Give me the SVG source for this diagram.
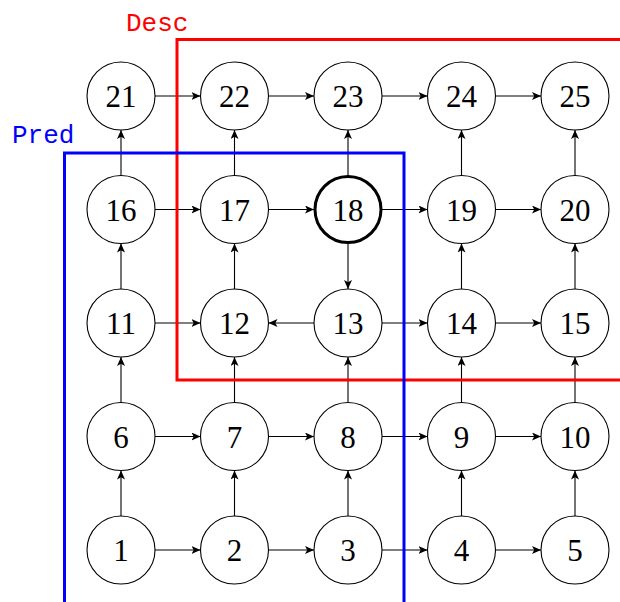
<svg xmlns="http://www.w3.org/2000/svg" width="620" height="602" viewBox="0 0 620 602">
<style>
.n circle{fill:#fff;stroke:#000;stroke-width:1.1}
.n text{font-family:"Liberation Serif","DejaVu Serif",serif;font-size:31px;text-anchor:middle;fill:#000}
.e line{stroke:#000;stroke-width:1.1;marker-end:url(#ah)}
.lbl{font-family:"Liberation Mono","DejaVu Sans Mono",monospace;font-size:26px}
</style>
<defs>
<marker id="ah" markerUnits="userSpaceOnUse" markerWidth="12" markerHeight="10" refX="9" refY="4" orient="auto">
<path d="M0,0 L9,4 L0,8 L2.2,4 Z" fill="#000"/>
</marker>
</defs>
<rect x="0" y="0" width="620" height="602" fill="#fff"/>
<g id="connectors" class="e">
<!-- horizontal -->
<line x1="155" y1="550" x2="200.5" y2="550"/>
<line x1="268.5" y1="550" x2="314" y2="550"/>
<line x1="382" y1="550" x2="427.5" y2="550"/>
<line x1="495.5" y1="550" x2="541" y2="550"/>
<line x1="155" y1="436.5" x2="200.5" y2="436.5"/>
<line x1="268.5" y1="436.5" x2="314" y2="436.5"/>
<line x1="382" y1="436.5" x2="427.5" y2="436.5"/>
<line x1="495.5" y1="436.5" x2="541" y2="436.5"/>
<line x1="155" y1="323" x2="200.5" y2="323"/>
<line x1="314" y1="323" x2="268.5" y2="323"/>
<line x1="382" y1="323" x2="427.5" y2="323"/>
<line x1="495.5" y1="323" x2="541" y2="323"/>
<line x1="155" y1="209.5" x2="200.5" y2="209.5"/>
<line x1="268.5" y1="209.5" x2="314" y2="209.5"/>
<line x1="382" y1="209.5" x2="427.5" y2="209.5"/>
<line x1="495.5" y1="209.5" x2="541" y2="209.5"/>
<line x1="155" y1="96" x2="200.5" y2="96"/>
<line x1="268.5" y1="96" x2="314" y2="96"/>
<line x1="382" y1="96" x2="427.5" y2="96"/>
<line x1="495.5" y1="96" x2="541" y2="96"/>
<!-- vertical -->
<line x1="121" y1="516" x2="121" y2="470.5"/>
<line x1="121" y1="402.5" x2="121" y2="357"/>
<line x1="121" y1="289" x2="121" y2="243.5"/>
<line x1="121" y1="175.5" x2="121" y2="130"/>
<line x1="234.5" y1="516" x2="234.5" y2="470.5"/>
<line x1="234.5" y1="402.5" x2="234.5" y2="357"/>
<line x1="234.5" y1="289" x2="234.5" y2="243.5"/>
<line x1="234.5" y1="175.5" x2="234.5" y2="130"/>
<line x1="348" y1="516" x2="348" y2="470.5"/>
<line x1="348" y1="402.5" x2="348" y2="357"/>
<line x1="348" y1="243.5" x2="348" y2="289"/>
<line x1="348" y1="175.5" x2="348" y2="130"/>
<line x1="461.5" y1="516" x2="461.5" y2="470.5"/>
<line x1="461.5" y1="402.5" x2="461.5" y2="357"/>
<line x1="461.5" y1="289" x2="461.5" y2="243.5"/>
<line x1="461.5" y1="175.5" x2="461.5" y2="130"/>
<line x1="575" y1="516" x2="575" y2="470.5"/>
<line x1="575" y1="402.5" x2="575" y2="357"/>
<line x1="575" y1="289" x2="575" y2="243.5"/>
<line x1="575" y1="175.5" x2="575" y2="130"/>
</g>
<g id="desc">
<rect x="177" y="39.5" width="460" height="340.5" fill="none" stroke="#ff0000" stroke-width="3"/>
<text class="lbl" x="126" y="30.5" fill="#ff0000">Desc</text>
</g>
<g id="pred">
<rect x="64.5" y="153" width="339.5" height="470" fill="none" stroke="#0000ff" stroke-width="3"/>
<text class="lbl" x="12" y="143" fill="#0000ff">Pred</text>
</g>
<g id="n1" class="n"><circle cx="121" cy="550" r="34"/><text x="121" y="561">1</text></g>
<g id="n2" class="n"><circle cx="234.5" cy="550" r="34"/><text x="234.5" y="561">2</text></g>
<g id="n3" class="n"><circle cx="348" cy="550" r="34"/><text x="348" y="561">3</text></g>
<g id="n4" class="n"><circle cx="461.5" cy="550" r="34"/><text x="461.5" y="561">4</text></g>
<g id="n5" class="n"><circle cx="575" cy="550" r="34"/><text x="575" y="561">5</text></g>
<g id="n6" class="n"><circle cx="121" cy="436.5" r="34"/><text x="121" y="447.5">6</text></g>
<g id="n7" class="n"><circle cx="234.5" cy="436.5" r="34"/><text x="234.5" y="447.5">7</text></g>
<g id="n8" class="n"><circle cx="348" cy="436.5" r="34"/><text x="348" y="447.5">8</text></g>
<g id="n9" class="n"><circle cx="461.5" cy="436.5" r="34"/><text x="461.5" y="447.5">9</text></g>
<g id="n10" class="n"><circle cx="575" cy="436.5" r="34"/><text x="575" y="447.5">10</text></g>
<g id="n11" class="n"><circle cx="121" cy="323" r="34"/><text x="121" y="334">11</text></g>
<g id="n12" class="n"><circle cx="234.5" cy="323" r="34"/><text x="234.5" y="334">12</text></g>
<g id="n13" class="n"><circle cx="348" cy="323" r="34"/><text x="348" y="334">13</text></g>
<g id="n14" class="n"><circle cx="461.5" cy="323" r="34"/><text x="461.5" y="334">14</text></g>
<g id="n15" class="n"><circle cx="575" cy="323" r="34"/><text x="575" y="334">15</text></g>
<g id="n16" class="n"><circle cx="121" cy="209.5" r="34"/><text x="121" y="220.5">16</text></g>
<g id="n17" class="n"><circle cx="234.5" cy="209.5" r="34"/><text x="234.5" y="220.5">17</text></g>
<g id="n18" class="n"><circle cx="348" cy="209.5" r="33" style="stroke-width:3"/><text x="348" y="220.5">18</text></g>
<g id="n19" class="n"><circle cx="461.5" cy="209.5" r="34"/><text x="461.5" y="220.5">19</text></g>
<g id="n20" class="n"><circle cx="575" cy="209.5" r="34"/><text x="575" y="220.5">20</text></g>
<g id="n21" class="n"><circle cx="121" cy="96" r="34"/><text x="121" y="107">21</text></g>
<g id="n22" class="n"><circle cx="234.5" cy="96" r="34"/><text x="234.5" y="107">22</text></g>
<g id="n23" class="n"><circle cx="348" cy="96" r="34"/><text x="348" y="107">23</text></g>
<g id="n24" class="n"><circle cx="461.5" cy="96" r="34"/><text x="461.5" y="107">24</text></g>
<g id="n25" class="n"><circle cx="575" cy="96" r="34"/><text x="575" y="107">25</text></g>
</svg>
